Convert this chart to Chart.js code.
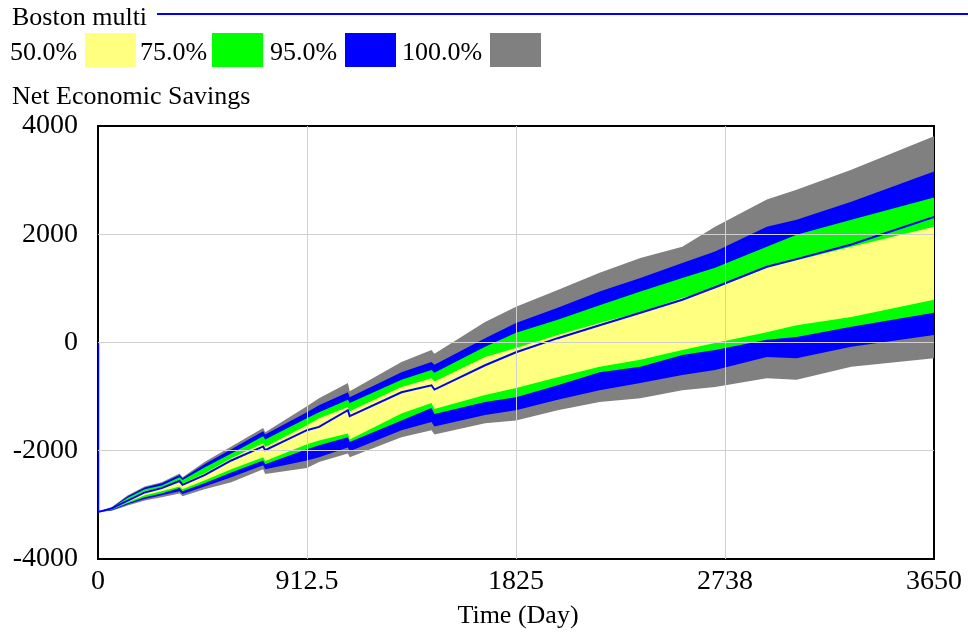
<!DOCTYPE html>
<html><head><meta charset="utf-8">
<script src="https://cdn.jsdelivr.net/npm/chart.js@4.4.0/dist/chart.umd.min.js"></script>
<style>
html,body{margin:0;padding:0;background:#fff;}
#wrap{position:relative;width:968px;height:634px;overflow:hidden;}
canvas{position:absolute;left:0;top:0;}
.t{position:absolute;font-family:'Liberation Serif','Times New Roman',serif;font-size:26px;line-height:1;color:#000;white-space:nowrap;}
.sw{position:absolute;top:33px;width:51px;height:34px;}
</style></head><body>
<div id="wrap">
<canvas id="c" width="968" height="634"></canvas>
<div id="legend"></div>
</div>
<script>
// ---- data ----
const times = [0, 1, 61, 130, 204, 278, 356, 369, 465, 582, 721, 730, 912, 965, 1091, 1099, 1325, 1456, 1469, 1690, 1825, 2007, 2190, 2368, 2551, 2694, 2920, 3050, 3289, 3650];
const grayTop = [-3130, -3130, -3040, -2820, -2660, -2580, -2420, -2490, -2210, -1920, -1580, -1660, -1180, -1030, -750, -900, -360, -140, -210, 380, 660, 970, 1290, 1560, 1770, 2140, 2640, 2820, 3190, 3810];
const blueTop = [-3130, -3130, -3050, -2840, -2680, -2600, -2450, -2510, -2250, -1970, -1640, -1700, -1290, -1160, -920, -1010, -550, -360, -410, 80, 360, 640, 940, 1190, 1470, 1680, 2140, 2270, 2600, 3160];
const greenTop = [-3130, -3130, -3060, -2870, -2710, -2640, -2490, -2540, -2310, -2050, -1730, -1790, -1400, -1290, -1060, -1120, -690, -510, -560, -80, 180, 420, 690, 940, 1190, 1380, 1770, 1990, 2270, 2680];
const yellowTop = [-3130, -3130, -3065, -2900, -2750, -2680, -2550, -2610, -2420, -2140, -1860, -1930, -1530, -1400, -1190, -1270, -820, -660, -720, -270, -100, 140, 360, 560, 820, 1000, 1380, 1520, 1770, 2140];
const yellowBottom = [-3130, -3130, -3080, -2950, -2820, -2750, -2660, -2710, -2550, -2340, -2120, -2190, -1880, -1810, -1680, -1790, -1310, -1120, -1230, -970, -840, -640, -450, -320, -140, -10, 190, 320, 470, 790];
const greenBottom = [-3130, -3130, -3090, -2970, -2860, -2790, -2690, -2750, -2600, -2400, -2180, -2250, -1970, -1900, -1750, -1840, -1440, -1210, -1320, -1100, -1010, -790, -550, -450, -230, -140, 50, 100, 290, 550];
const blueBottom = [-3130, -3130, -3100, -2990, -2890, -2820, -2750, -2800, -2660, -2490, -2270, -2340, -2180, -2120, -1940, -2010, -1620, -1470, -1550, -1340, -1250, -1060, -880, -750, -600, -510, -270, -290, -80, 140];
const grayBottom = [-3130, -3130, -3110, -3010, -2920, -2860, -2790, -2840, -2710, -2580, -2340, -2430, -2320, -2210, -2050, -2120, -1750, -1620, -1700, -1490, -1440, -1250, -1100, -1030, -880, -820, -660, -690, -450, -290];
const bostonMulti = [0, -3130, -3065, -2920, -2770, -2690, -2560, -2630, -2450, -2180, -1920, -1990, -1620, -1560, -1250, -1360, -920, -790, -870, -420, -180, 80, 320, 550, 790, 1020, 1400, 1540, 1810, 2320];

const xTickValues = [0, 912.5, 1825, 2737.5, 3650];
const xTickLabels = ["0", "912.5", "1825", "2738", "3650"];
const yTickValues = [-4000, -2000, 0, 2000, 4000];
const yTickLabels = ["-4000", "-2000", "0", "2000", "4000"];
const bandLabels = ["50.0%", "75.0%", "95.0%", "100.0%"];
const seriesTitle = "Boston multi";
const yTitle = "Net Economic Savings";
const xTitle = "Time (Day)";

// ---- styling ----
const YELLOW = '#ffff80', GREEN = '#00ff00', BLUE = '#0000ff', GRAY = '#808080';
const FONT = "'Liberation Serif','Times New Roman',serif";

// ---- HTML texts / legend ----
const lg = document.getElementById('legend');
function addText(txt, left, top) { const d = document.createElement('div'); d.className = 't'; d.textContent = txt; d.style.left = left + 'px'; d.style.top = top + 'px'; lg.appendChild(d); return d; }
addText(seriesTitle, 12, 4);
const ln = document.createElement('div'); ln.style.cssText = 'position:absolute;left:157px;top:13px;width:811px;height:2px;background:' + BLUE; lg.appendChild(ln);
const textLefts = [10, 140, 270, 402], boxLefts = [85, 212, 345, 490], boxColors = [YELLOW, GREEN, BLUE, GRAY];
bandLabels.forEach((lab, i) => {
  addText(lab, textLefts[i], 39);
  const b = document.createElement('div'); b.className = 'sw'; b.style.left = boxLefts[i] + 'px'; b.style.background = boxColors[i]; lg.appendChild(b);
});
addText(yTitle, 12, 83);
const xt = addText(xTitle, 0, 602); xt.style.left = '518px'; xt.style.transform = 'translateX(-50%)';

// ---- chart ----
const pts = arr => times.map((t, i) => ({ x: t, y: arr[i] }));
const band = (arr, color, fillTarget, order) => ({
  data: pts(arr), borderColor: 'transparent', backgroundColor: color, borderWidth: 1,
  pointRadius: 0, fill: fillTarget, order: order, tension: 0
});

const boxPlugin = {
  id: 'box',
  beforeDatasetsDraw(chart) {
    const { ctx, chartArea: a } = chart;
    ctx.save(); ctx.strokeStyle = '#000'; ctx.lineWidth = 2;
    ctx.strokeRect(a.left, a.top, a.right - a.left, a.bottom - a.top);
    ctx.restore();
  }
};

const gridColor = (edgeVals) => (c) => (c.tick && edgeVals.includes(c.tick.value)) ? 'rgba(0,0,0,0)' : '#d0d0d0';

new Chart(document.getElementById('c'), {
  type: 'line',
  data: {
    datasets: [
      { data: pts(bostonMulti), borderColor: BLUE, borderWidth: 2, pointRadius: 0, fill: false, order: 0, tension: 0 },
      band(yellowTop, YELLOW, 2, 1),
      band(yellowBottom, YELLOW, false, 1),
      band(greenTop, GREEN, 4, 2),
      band(greenBottom, GREEN, false, 2),
      band(blueTop, BLUE, 6, 3),
      band(blueBottom, BLUE, false, 3),
      band(grayTop, GRAY, 8, 4),
      band(grayBottom, GRAY, false, 4)
    ]
  },
  options: {
    responsive: false, animation: false,
    layout: { padding: { left: 0, right: 30, top: 126, bottom: 0 } },
    plugins: { legend: { display: false }, tooltip: { enabled: false } },
    scales: {
      x: {
        type: 'linear', min: 0, max: 3650,
        afterBuildTicks: s => { s.ticks = xTickValues.map(v => ({ value: v })); },
        afterFit: s => { s.height = 75; },
        ticks: { autoSkip: false, maxRotation: 0, padding: 6, color: '#000', font: { family: FONT, size: 28 },
          callback: (v, i) => xTickLabels[i] },
        grid: { color: gridColor([0, 3650]), lineWidth: 1, drawTicks: false, z: 1 },
        border: { display: false }
      },
      y: {
        min: -4000, max: 4000,
        afterBuildTicks: s => { s.ticks = yTickValues.map(v => ({ value: v })); },
        afterFit: s => { s.width = 98; },
        ticks: { padding: 20, color: '#000', font: { family: FONT, size: 28 },
          callback: (v, i) => yTickLabels[i] },
        grid: { color: gridColor([-4000, 4000]), lineWidth: 1, drawTicks: false, z: 1 },
        border: { display: false }
      }
    }
  },
  plugins: [boxPlugin]
});
</script>
</body></html>
